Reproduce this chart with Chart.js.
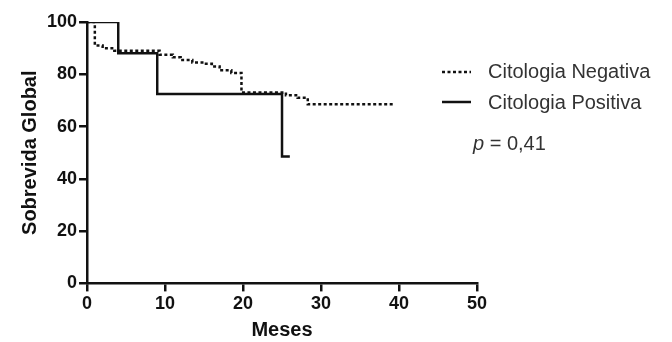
<!DOCTYPE html>
<html>
<head>
<meta charset="utf-8">
<script src="https://cdn.jsdelivr.net/npm/chart.js@4.4.1/dist/chart.umd.min.js"></script>
<style>
  html, body { margin: 0; padding: 0; background: #fff; }
  #wrap { width: 672px; height: 342px; }
</style>
</head>
<body>
<div id="wrap"><canvas id="kmChart" width="672" height="342"></canvas></div>
<script>
// Kaplan-Meier curves
var negMonths = [0, 1, 2, 3.5, 9.3, 11, 12, 13.5, 15, 16, 17, 18.5, 19.8, 25.5, 27, 28.3, 39.2];
var negSurv   = [100, 91, 90, 89, 87.5, 86.5, 85.5, 84.5, 84, 83, 81.5, 80.5, 73, 72, 71, 68.5, 68.5];

var posMonths = [0, 4, 9, 25, 26];
var posSurv   = [100, 88, 72.5, 48.5, 48.5];

var xTicks = [0, 10, 20, 30, 40, 50];
var yTicks = [0, 20, 40, 60, 80, 100];

var legendLabels = ["Citologia Negativa", "Citologia Positiva"];
var pValue = "0,41";

function toPoints(xs, ys) {
  return xs.map(function(x, i) { return {x: x, y: ys[i]}; });
}

var font = "'Liberation Sans', Arial, sans-serif";

var sidePlugin = {
  id: 'sideLegend',
  afterDraw: function(chart) {
    var ctx = chart.ctx;
    ctx.save();
    ctx.fillStyle = '#333';
    ctx.strokeStyle = '#111';
    ctx.lineWidth = 2.5;
    ctx.font = "20px " + font;
    ctx.textBaseline = 'middle';
    // dotted sample
    ctx.setLineDash([3, 2.5]);
    ctx.beginPath(); ctx.moveTo(442, 72); ctx.lineTo(471, 72); ctx.stroke();
    ctx.setLineDash([]);
    ctx.beginPath(); ctx.moveTo(442, 102); ctx.lineTo(471, 102); ctx.stroke();
    ctx.fillText(legendLabels[0], 488, 72);
    ctx.fillText(legendLabels[1], 488, 103);
    ctx.font = "italic 20px " + font;
    ctx.fillText("p", 473, 144);
    var w = ctx.measureText("p").width;
    ctx.font = "20px " + font;
    ctx.fillText(" = " + pValue, 473 + w, 144);
    ctx.restore();
  }
};

var ctx = document.getElementById("kmChart").getContext("2d");
new Chart(ctx, {
  type: 'scatter',
  data: {
    datasets: [
      {
        label: legendLabels[0],
        data: toPoints(negMonths, negSurv),
        showLine: true,
        stepped: true,
        borderColor: '#111',
        borderWidth: 2.5,
        borderDash: [3, 2.5],
        pointRadius: 0
      },
      {
        label: legendLabels[1],
        data: toPoints(posMonths, posSurv),
        showLine: true,
        stepped: true,
        borderColor: '#111',
        borderWidth: 2.5,
        pointRadius: 0
      }
    ]
  },
  options: {
    responsive: false,
    animation: false,
    layout: { padding: { left: 18, right: 195, top: 22, bottom: 0 } },
    plugins: {
      legend: { display: false },
      tooltip: { enabled: false }
    },
    scales: {
      x: {
        type: 'linear',
        min: 0, max: 50,
        afterBuildTicks: function(axis) { axis.ticks = xTicks.map(function(v) { return {value: v}; }); },
        ticks: { color: '#111', font: { family: font, size: 18, weight: 'bold' }, padding: 2 },
        grid: { drawOnChartArea: false, color: '#111', lineWidth: 2.5, tickLength: 8 },
        border: { color: '#111', width: 2.5 },
        title: { display: true, text: 'Meses', color: '#111', font: { family: font, size: 20, weight: 'bold' }, padding: { top: 1, bottom: 0 } }
      },
      y: {
        min: 0, max: 100,
        afterBuildTicks: function(axis) { axis.ticks = yTicks.map(function(v) { return {value: v}; }); },
        ticks: { color: '#111', font: { family: font, size: 18, weight: 'bold' }, padding: 2 },
        grid: { drawOnChartArea: false, color: '#111', lineWidth: 2.5, tickLength: 8 },
        border: { color: '#111', width: 2.5 },
        title: { display: true, text: 'Sobrevida Global', color: '#111', font: { family: font, size: 20, weight: 'bold' }, padding: { top: 0, bottom: 3 } }
      }
    }
  },
  plugins: [sidePlugin]
});
</script>
</body>
</html>
